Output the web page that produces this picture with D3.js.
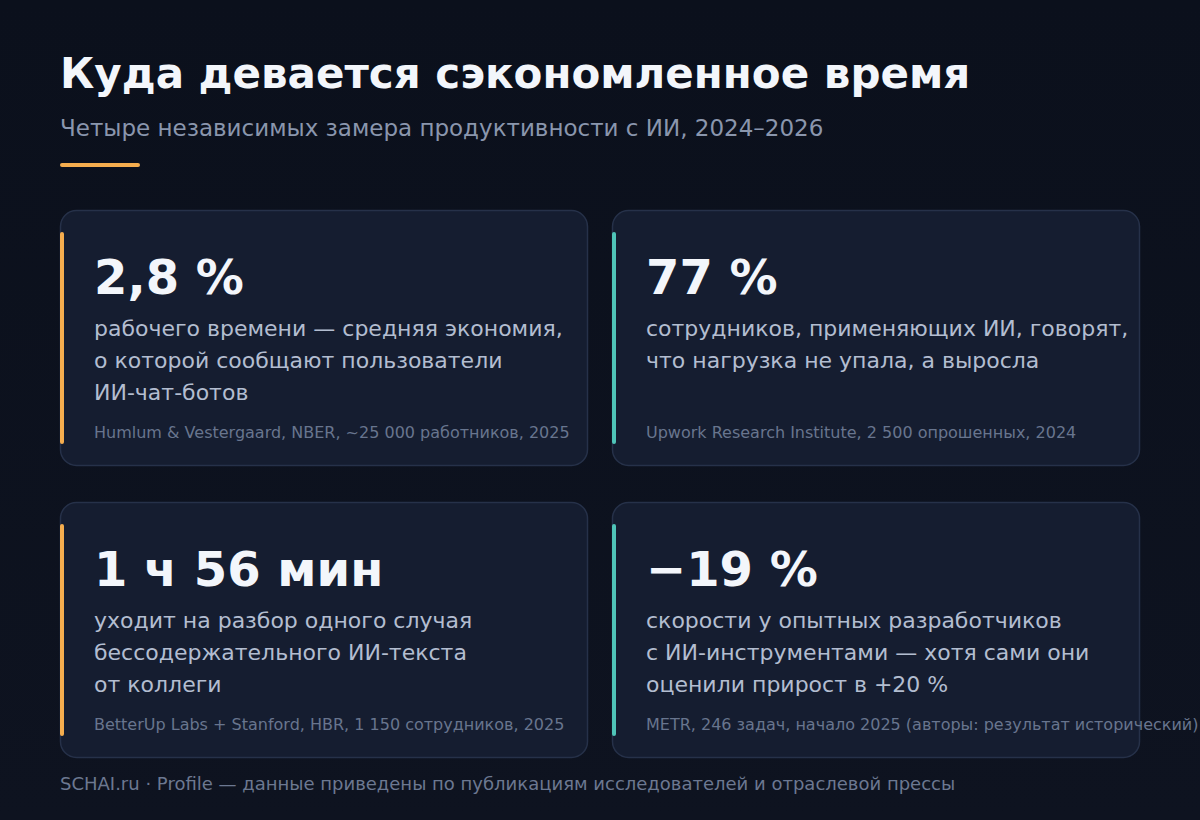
<!DOCTYPE html>
<html>
<head>
<meta charset="utf-8">
<script src="https://cdn.jsdelivr.net/npm/d3@7"></script>
<style>
  html, body { margin: 0; padding: 0; background: #0c111d; }
  svg { display: block; font-family: "DejaVu Sans", sans-serif; }
</style>
</head>
<body>
<div id="app"></div>
<script>
// data
const values = ["2,8 %", "77 %", "1 ч 56 мин", "\u221219 %"]
const descriptions = [
  ["рабочего времени — средняя экономия,", "о которой сообщают пользователи", "ИИ-чат-ботов"],
  ["сотрудников, применяющих ИИ, говорят,", "что нагрузка не упала, а выросла"],
  ["уходит на разбор одного случая", "бессодержательного ИИ-текста", "от коллеги"],
  ["скорости у опытных разработчиков", "с ИИ-инструментами — хотя сами они", "оценили прирост в +20 %"],
]
const sources = [
  "Humlum & Vestergaard, NBER, ~25 000 работников, 2025",
  "Upwork Research Institute, 2 500 опрошенных, 2024",
  "BetterUp Labs + Stanford, HBR, 1 150 сотрудников, 2025",
  "METR, 246 задач, начало 2025 (авторы: результат исторический)",
]
const accents = ["amber", "teal", "amber", "teal"]

const title = "Куда девается сэкономленное время"
const subtitle = "Четыре независимых замера продуктивности с ИИ, 2024–2026"
const footer = "SCHAI.ru · Profile — данные приведены по публикациям исследователей и отраслевой прессы"

//#region dimensions
const width = 1200
const height = 820
//#endregion

const svg = d3.select('#app')
  .append('svg')
    .attr('width', width)
    .attr('height', height)

const defs = svg.append('defs')
const bg = defs.append('linearGradient')
    .attr('id', 'bg')
    .attr('x1', 0).attr('y1', 0)
    .attr('x2', 0).attr('y2', 1)
bg.append('stop').attr('offset', '0%').attr('stop-color', '#0b101c')
bg.append('stop').attr('offset', '100%').attr('stop-color', '#0e1320')

svg.append('rect')
    .attr('width', width)
    .attr('height', height)
    .attr('fill', 'url(#bg)')

// header
svg.append('text')
    .attr('x', 60)
    .attr('y', 88)
    .attr('fill', '#f3f6fb')
    .style('font-size', '42px')
    .style('font-weight', 'bold')
    .text(title)

svg.append('text')
    .attr('x', 60)
    .attr('y', 136)
    .attr('fill', '#8a96ad')
    .style('font-size', '23px')
    .text(subtitle)

svg.append('line')
    .attr('x1', 62)
    .attr('x2', 138)
    .attr('y1', 165)
    .attr('y2', 165)
    .attr('stroke', '#f5ad4e')
    .attr('stroke-width', 4)
    .attr('stroke-linecap', 'round')

//#region scales
const cells = values.map((v, i) => ({
  value: v,
  desc: descriptions[i],
  source: sources[i],
  accent: accents[i],
  col: i % 2,
  row: Math.floor(i / 2),
}))

const xScale = d3.scaleBand()
  .domain([0, 1])
  .range([60, 1140])
  .paddingInner(24 / 552)

const yScale = d3.scaleBand()
  .domain([0, 1])
  .range([210, 758])
  .paddingInner(36 / 292)

const accentColor = d3.scaleOrdinal()
  .domain(["amber", "teal"])
  .range(["#f5ad4e", "#4fc4b8"])
//#endregion

//#region cards
const cards = svg.selectAll('g.card')
  .data(cells)
  .join('g')
    .attr('class', 'card')
    .attr('transform', d => `translate(${xScale(d.col)},${yScale(d.row)})`)

cards.append('rect')
    .attr('x', 0.5)
    .attr('y', 0.5)
    .attr('width', xScale.bandwidth() - 1)
    .attr('height', yScale.bandwidth() - 1)
    .attr('rx', 16)
    .attr('fill', '#151d30')
    .attr('stroke', '#263149')
    .attr('stroke-width', 1.5)

cards.append('rect')
    .attr('x', 0)
    .attr('y', 22)
    .attr('width', 4)
    .attr('height', yScale.bandwidth() - 44)
    .attr('rx', 2)
    .attr('fill', d => accentColor(d.accent))

cards.append('text')
    .attr('x', 34)
    .attr('y', 84)
    .attr('fill', '#f3f6fb')
    .style('font-size', '48px')
    .style('font-weight', 'bold')
    .text(d => d.value)

cards.append('text')
    .attr('y', 126)
    .attr('fill', '#b3bdd0')
    .style('font-size', '22px')
  .selectAll('tspan')
  .data(d => d.desc)
  .join('tspan')
    .attr('x', 34)
    .attr('dy', (d, i) => i ? 32 : 0)
    .text(d => d)

cards.append('text')
    .attr('x', 34)
    .attr('y', 228)
    .attr('fill', '#68758e')
    .style('font-size', '16px')
    .text(d => d.source)
//#endregion

svg.append('text')
    .attr('x', 60)
    .attr('y', 790)
    .attr('fill', '#6c7891')
    .style('font-size', '18px')
    .text(footer)
</script>
</body>
</html>
